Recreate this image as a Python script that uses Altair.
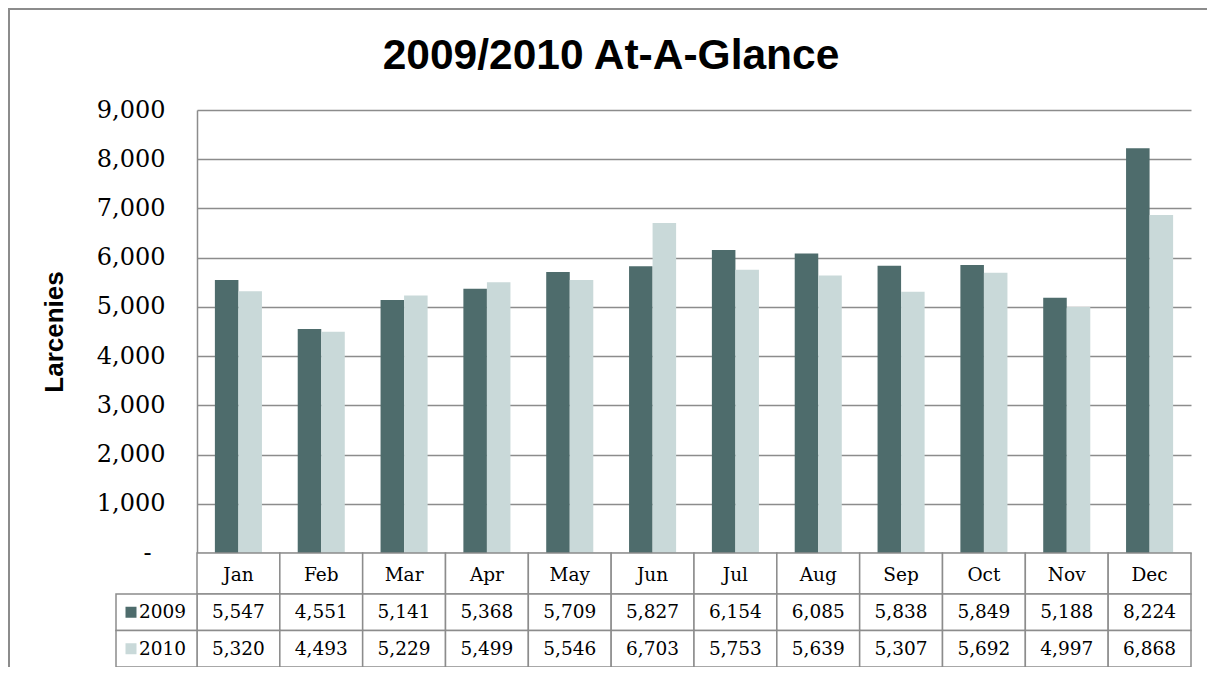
import altair as alt
import pandas as pd

months = ["Jan", "Feb", "Mar", "Apr", "May", "Jun", "Jul", "Aug", "Sep", "Oct", "Nov", "Dec"]
larcenies_2009 = [5547, 4551, 5141, 5368, 5709, 5827, 6154, 6085, 5838, 5849, 5188, 8224]
larcenies_2010 = [5320, 4493, 5229, 5499, 5546, 6703, 5753, 5639, 5307, 5692, 4997, 6868]
series = ["2009", "2010"]
colors = ["#4E6C6C", "#C9D9D9"]
y_ticks = [0, 1000, 2000, 3000, 4000, 5000, 6000, 7000, 8000, 9000]
title_text = "2009/2010 At-A-Glance"
y_title = "Larcenies"

rows = []
for s, vals in zip(series, [larcenies_2009, larcenies_2010]):
    for m, v in zip(months, vals):
        rows.append({"month": m, "series": s, "value": v})
df = pd.DataFrame(rows)
month_df = pd.DataFrame({"month": months})
series_df = pd.DataFrame({"series": series})
one = pd.DataFrame({"k": [0]})

W = 994      # plot width
PH = 443     # bar plot height
HDR = 41     # header row height
TH = 114     # whole table height
GRID = "#8C8C8C"
SERIF = "DejaVu Serif"
SANS = "Liberation Sans"

x_scale = alt.Scale(domain=months, paddingInner=0, paddingOuter=0)
color_scale = alt.Scale(domain=series, range=colors)
row_scale = alt.Scale(domain=series, range=[PH + HDR, PH + TH], paddingInner=0, paddingOuter=0)
X = alt.X("month:N", scale=x_scale, sort=months, axis=None)
YROW = alt.Y("series:N", scale=row_scale, axis=None)

border = alt.Chart(one).mark_rect(fillOpacity=0, stroke=GRID, strokeWidth=2).encode(
    x=alt.value(-188), x2=alt.value(1300), y=alt.value(-101), y2=alt.value(800)
)

title = alt.Chart(one).mark_text(
    text=title_text, font=SANS, fontSize=42.5, fontWeight="bold", align="center",
    baseline="alphabetic", color="black"
).encode(x=alt.value(414), y=alt.value(-41))

bars = alt.Chart(df).mark_bar().encode(
    x=X,
    xOffset=alt.XOffset("series:N", scale=alt.Scale(domain=series, paddingInner=0, paddingOuter=0.76)),
    y=alt.Y(
        "value:Q",
        scale=alt.Scale(domain=[0, 9000], range=[PH, 0], nice=False, zero=True),
        axis=alt.Axis(
            values=y_ticks,
            labelExpr="datum.value == 0 ? '-' : format(datum.value, ',')",
            labelFont=SERIF, labelFontSize=24, labelColor="black",
            labelPadding={"condition": {"test": "datum.value === 0", "value": 46}, "value": 32},
            ticks=False, domainColor=GRID, domainWidth=1.5,
            grid=True, gridColor=GRID, gridWidth=1.5,
            title=y_title, titleFont=SANS, titleFontSize=26, titleFontWeight="bold",
            titleColor="black", titleX=-135, titleBaseline="alphabetic",
        ),
    ),
    color=alt.Color("series:N", scale=color_scale, legend=None),
)

header_cells = alt.Chart(month_df).mark_rect(fill="white", stroke=GRID, strokeWidth=1.5).encode(
    x=X, y=alt.value(PH), y2=alt.value(PH + HDR)
)
header_text = alt.Chart(month_df).mark_text(font=SERIF, fontSize=18.5, color="black", baseline="middle").encode(
    x=X, y=alt.value(PH + HDR / 2 + 1), text="month:N"
)
row_cells = alt.Chart(df).mark_rect(fill="white", stroke=GRID, strokeWidth=1.5).encode(x=X, y=YROW)
row_text = alt.Chart(df).mark_text(font=SERIF, fontSize=18.5, color="black", baseline="middle").encode(
    x=X, y=YROW, text=alt.Text("value:Q", format=",")
)
legend_cells = alt.Chart(series_df).mark_rect(fill="white", stroke=GRID, strokeWidth=1.5).encode(
    x=alt.value(-81), x2=alt.value(0), y=YROW
)
legend_swatch = alt.Chart(series_df).mark_square(size=121, opacity=1, filled=True).encode(
    x=alt.value(-66), y=YROW, color=alt.Color("series:N", scale=color_scale, legend=None)
)
legend_text = alt.Chart(series_df).mark_text(font=SERIF, fontSize=18.5, color="black", align="left", baseline="middle").encode(
    x=alt.value(-58), y=YROW, text="series:N"
)

chart = alt.layer(
    border, title, bars, header_cells, header_text, row_cells, row_text,
    legend_cells, legend_swatch, legend_text
).resolve_scale(y="independent").properties(
    width=W, height=PH + TH,
    padding={"left": 189, "top": 102, "right": 16, "bottom": 0},
    autosize=alt.AutoSizeParams(type="none"),
    background="white",
).configure_view(strokeWidth=0)

chart.save("out.html", embed_options={"renderer": "svg", "actions": False})
